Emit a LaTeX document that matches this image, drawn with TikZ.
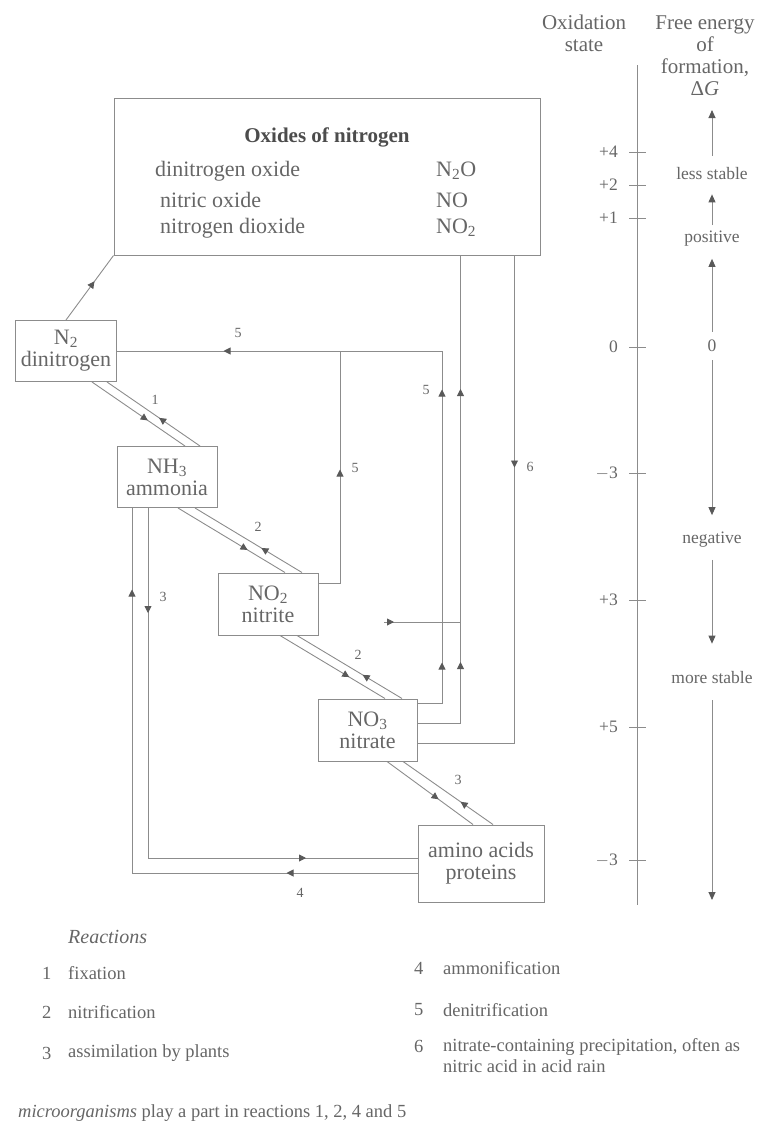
\documentclass[tikz,border=0pt]{standalone}
\usepackage{fontspec}
\setmainfont{Liberation Serif}
\usetikzlibrary{arrows.meta,decorations.markings,calc}
\definecolor{lncol}{gray}{0.55}
\definecolor{txcol}{gray}{0.40}
\definecolor{arcol}{gray}{0.35}
\tikzset{
  ln/.style={draw=lncol, line width=0.9pt},
  box/.style={draw=lncol, line width=1pt, rectangle, inner sep=0pt, align=center, text=txcol,
     font=\fontsize{22}{22}\selectfont},
  ar/.style={postaction={decorate,decoration={markings,
     mark=at position #1 with {\arrow{Triangle[length=7pt,width=7pt,color=arcol]}}}}},
  num/.style={text=txcol, font=\fontsize{14}{15}\selectfont, inner sep=0pt},
  lbl/.style={text=txcol, font=\fontsize{17.5}{19}\selectfont, inner sep=0pt},
  hdr/.style={text=txcol, font=\fontsize{21}{22}\selectfont, inner sep=0pt, align=center},
  legt/.style={text=txcol, font=\fontsize{18.5}{21}\selectfont, inner sep=0pt, anchor=west, align=left},
  rowt/.style={text=txcol, font=\fontsize{22}{24}\selectfont, inner sep=0pt, anchor=west},
  fe/.style={draw=lncol, line width=0.9pt, -{Triangle[length=8pt,width=7pt,color=arcol]}},
  tick/.style={draw=lncol, line width=0.9pt},
}
\begin{document}
\begin{tikzpicture}[x=1pt,y=-1pt]
\useasboundingbox (0,0) rectangle (762,1125);

% ---------- boxes ----------
\node[box, minimum width=426, minimum height=157] (ox) at (327,176.5) {};
\node[text=black!70, font=\bfseries\fontsize{21}{23}\selectfont] (oxt) at (327,137) {Oxides of nitrogen};
\node[rowt] (r1a) at (155,171) {dinitrogen oxide};
\node[rowt] (r1b) at (436,171) {N\textsubscript{2}O};
\node[rowt] (r2a) at (160,200) {nitric oxide};
\node[rowt] (r2b) at (436,200) {NO};
\node[rowt] (r3a) at (160,228) {nitrogen dioxide};
\node[rowt] (r3b) at (436,228) {NO\textsubscript{2}};

\node[box, minimum width=101, minimum height=61] (n2) at (66,351) {N\textsubscript{2}\\dinitrogen};
\node[box, minimum width=100, minimum height=61] (nh3) at (167,477) {NH\textsubscript{3}\\ammonia};
\node[box, minimum width=100, minimum height=62] (no2) at (268,604) {NO\textsubscript{2}\\nitrite};
\node[box, minimum width=99, minimum height=62] (no3) at (367.5,730) {NO\textsubscript{3}\\nitrate};
\node[box, minimum width=126, minimum height=77] (aa) at (481,863.5) {amino acids\\proteins};

% ---------- N2 -> oxides ----------
\draw[ln, ar=0.6] (n2.north) -- (ox.south west);

% ---------- diagonal double lines ----------
\draw[ln, ar=0.6] ($(n2.south)+(26,0)$) -- ($(nh3.north)+(18,0)$);
\draw[ln, ar=0.44] ($(nh3.north)+(33,0)$) -- ($(n2.south)+(41,0)$);
\node[num] (l1) at (155,400) {1};

\draw[ln, ar=0.65] ($(nh3.south)+(11,0)$) -- ($(no2.north)+(17,0)$);
\draw[ln, ar=0.38] ($(no2.north)+(34,0)$) -- ($(nh3.south)+(28,0)$);
\node[num] (l2a) at (258,527) {2};

\draw[ln, ar=0.66] ($(no2.south)+(12,0)$) -- ($(no3.north)+(17.5,0)$);
\draw[ln, ar=0.375] ($(no3.north)+(34.5,0)$) -- ($(no2.south)+(29,0)$);
\node[num] (l2b) at (358,655) {2};

\draw[ln, ar=0.6] ($(no3.south)+(19.5,0)$) -- ($(aa.north)+(-8,0)$);
\draw[ln, ar=0.36] ($(aa.north)+(12,0)$) -- ($(no3.south)+(35.5,0)$);
\node[num] (l3a) at (458,780) {3};

% ---------- NH3 <-> amino acids ----------
\draw[ln, ar=131pt, ar=569pt] ($(aa.west)+(0,9.5)$) -| ($(nh3.south)+(-35,0)$);
\draw[ln, ar=105pt, ar=508pt] ($(nh3.south)+(-19,0)$) |- ($(aa.west)+(0,-5.5)$);
\node[num] (l3b) at (163,597) {3};
\node[num] (l4) at (300,893) {4};

% ---------- denitrification and precipitation ----------
\coordinate (c5) at (340,351);
\coordinate (c5b) at (442,351);
\draw[ln, ar=135pt, ar=370pt] ($(no2.east)+(0,-21)$) -| (c5) -- (n2.east);
\draw[ln, ar=65pt, ar=338pt] ($(no3.east)+(0,-27)$) -| (c5b) -- (c5);
\draw[ln, ar=104pt, ar=377pt] ($(no3.east)+(0,-7)$) -| ($(ox.south west)+(347,0)$);
\coordinate (c7) at (384,622);
\coordinate (c7b) at (461,622);
\draw[ln, ar=10pt] (c7) -- (c7b);
\draw[ln, ar=212pt] ($(ox.south west)+(401,0)$) |- ($(no3.east)+(0,13)$);
\node[num] (l5a) at (238,333) {5};
\node[num] (l5b) at (355,468) {5};
\node[num] (l5c) at (426,390) {5};
\node[num] (l6) at (530,467) {6};

% ---------- oxidation state axis ----------
\node[hdr] (hox) at (584,33) {Oxidation\\state};
\coordinate (axt) at (637,65);
\coordinate (axb) at (637,905);
\draw[ln] (axt) -- (axb);
\foreach \yy/\tx in {152/+4,185/+2,218/+1,347/0,473/$-$3,600/+3,727/+5,860/$-$3}{
  \draw[tick] (629,\yy) -- (646,\yy);
  \node[lbl, anchor=east] at (618,\yy) {\tx};
}

% ---------- free energy ----------
\node[hdr] (hfe) at (705,56) {Free energy\\of\\formation,\\Δ\textit{G}};
\coordinate (fet) at (712,110);
\coordinate (feb) at (712,900);
\node[lbl] (ls) at (712,174) {less stable};
\node[lbl] (pos) at (712,239) {positive};
\node[lbl] (z) at (712,346) {0};
\node[lbl] (neg) at (712,540) {negative};
\node[lbl] (ms) at (712,678) {more stable};
\draw[fe] ($(ls.north)+(0,-12)$) -- (fet);
\draw[fe] ($(pos.north)+(0,-6)$) -- ($(ls.south)+(0,14)$);
\draw[fe] ($(z.north)+(0,-8)$) -- ($(pos.south)+(0,12)$);
\draw[fe] ($(z.south)+(0,8)$) -- ($(neg.north)+(0,-17)$);
\draw[fe] ($(neg.south)+(0,12)$) -- ($(ms.north)+(0,-28)$);
\draw[fe] ($(ms.south)+(0,16)$) -- (feb);

% ---------- legend ----------
\node[legt, font=\itshape\fontsize{20}{22}\selectfont] (rx) at (68,937) {Reactions};
\node[legt] (k1) at (42,973) {1}; \node[legt] (t1) at (68,973) {fixation};
\node[legt] (k2) at (42,1012) {2}; \node[legt] (t2) at (68,1012) {nitrification};
\node[legt] (k3) at (42,1053) {3}; \node[legt] (t3) at (68,1053) {assimilation by plants};
\node[legt] (k4) at (414,968) {4}; \node[legt] (t4) at (443,968) {ammonification};
\node[legt] (k5) at (414,1010) {5}; \node[legt] (t5) at (443,1010) {denitrification};
\node[legt] (k6) at (414,1046) {6}; \node[legt, font=\fontsize{18.5}{21}\selectfont] (t6) at (443,1056) {nitrate-containing precipitation, often as\\nitric acid in acid rain};
\node[legt] (foot) at (18,1113) {\textit{microorganisms} play a part in reactions 1, 2, 4 and 5};
\end{tikzpicture}
\end{document}
